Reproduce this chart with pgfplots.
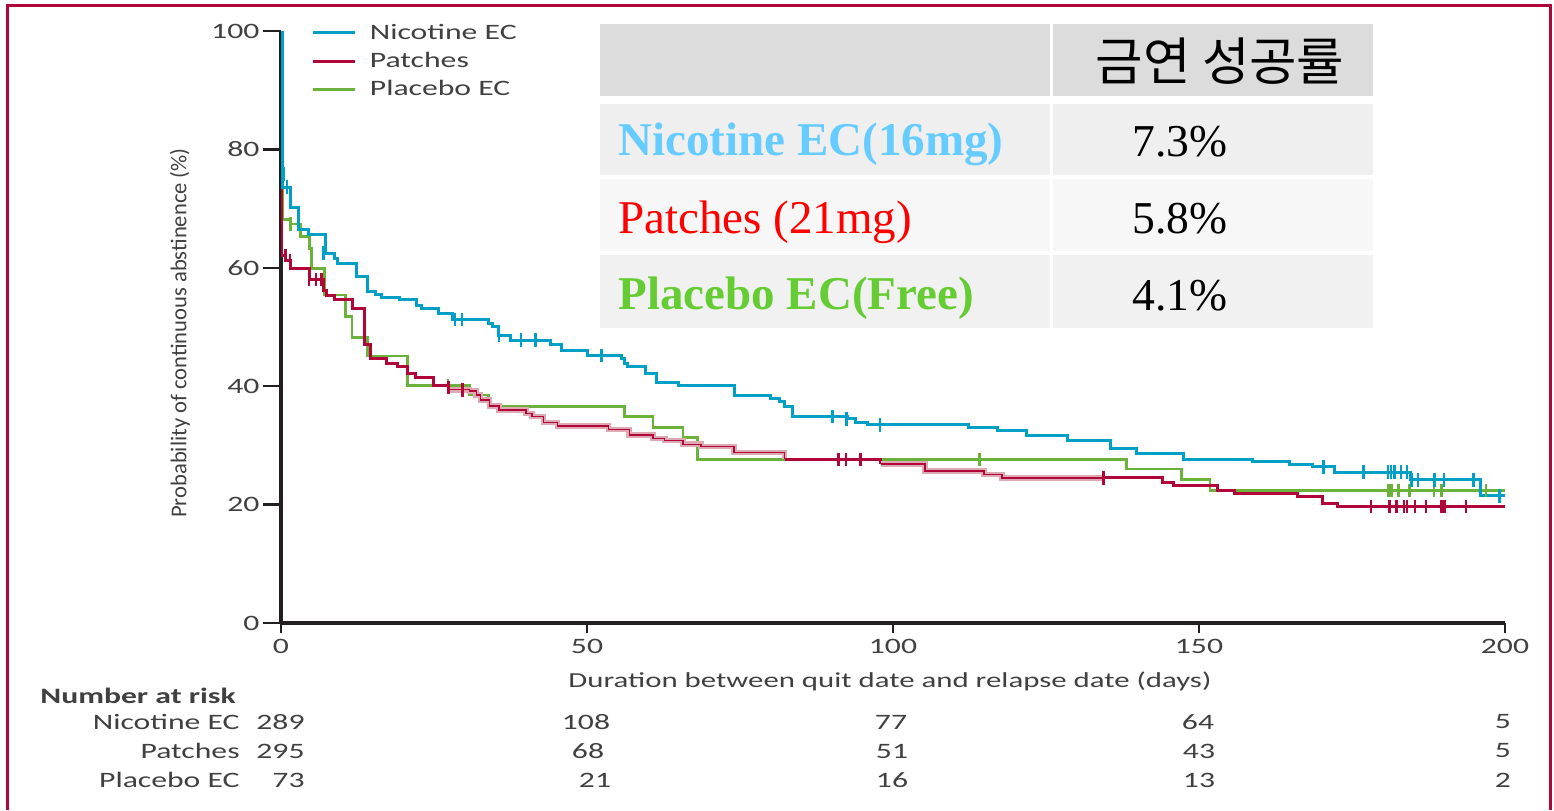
\documentclass[border=0pt]{standalone}
\usepackage{pgfplots}
\pgfplotsset{compat=1.18}
\usepackage{fontspec}
\setmainfont{Carlito}
\newfontfamily\chartfont[FakeStretch=1.44]{Carlito}
\newfontfamily\tabserif{Liberation Serif}
\newfontfamily\krfont{Noto Sans CJK KR}

\definecolor{nic}{HTML}{00A0C6}
\definecolor{pat}{HTML}{B0063A}
\definecolor{pla}{HTML}{6AB23A}
\definecolor{pinkband}{HTML}{DDA9B3}
\definecolor{framec}{HTML}{B0063A}
\definecolor{txt}{HTML}{404040}
\definecolor{axisk}{HTML}{231F20}
\definecolor{hdr}{HTML}{DCDCDC}
\definecolor{rowa}{HTML}{EFEFEF}
\definecolor{rowb}{HTML}{F7F7F7}
\definecolor{rowc}{HTML}{F1F1F1}
\definecolor{tnic}{HTML}{66CCFF}
\definecolor{tpat}{HTML}{FF0000}
\definecolor{tpla}{HTML}{66CC33}

\begin{document}
\begin{tikzpicture}[font=\chartfont\fontsize{11}{13}\selectfont]
\useasboundingbox (0,0) rectangle (777pt,-405pt);
\begin{axis}[
    at={(140.5pt,-311.5pt)}, anchor=south west,
    width=612pt, height=296pt, scale only axis,
    xmin=0, xmax=200, ymin=0, ymax=100,
    axis lines=left,
    axis line style={-, line width=1.6pt, color=axisk},
    xtick={0,50,100,150,200},
    ytick={0,20,40,60,80,100},
    tick align=outside,
    tick style={line width=1.2pt, color=axisk},
    xtick style={/pgfplots/major tick length=5pt},
    ytick style={/pgfplots/major tick length=9pt},
    /pgf/number format/assume math mode=true,
    ticklabel style={font=\chartfont\fontsize{11}{13}\selectfont, text=txt},
    yticklabel style={xshift=-3pt},
    xticklabel style={yshift=-0.5pt},
    xlabel={Duration between quit date and relapse date (days)},
    ylabel={Probability of continuous abstinence (\%)},
    every axis x label/.style={at={(axis description cs:0.4975,-0.098)}, anchor=center,
        font=\chartfont\fontsize{10.7}{13}\selectfont, text=txt},
    every axis y label/.style={at={(axis description cs:-0.0825,0.49)}, anchor=center, rotate=90,
        font=\fontsize{11.3}{13}\selectfont, text=txt},
    legend style={at={(axis cs:4.0,102.3)}, anchor=north west, draw=none, fill=none,
        font=\chartfont\fontsize{11}{13}\selectfont, text=txt,
        row sep=3pt, nodes={inner sep=1pt}},
    legend cell align=left,
    legend image code/.code={\draw[#1] (0pt,0pt) -- (21pt,0pt); \path (26.5pt,0pt);},
]

\addlegendimage{nic, line width=1.5pt}
\addlegendentry{Nicotine EC}
\addlegendimage{pat, line width=1.5pt}
\addlegendentry{Patches}
\addlegendimage{pla, line width=1.5pt}
\addlegendentry{Placebo EC}

% Placebo EC
\addplot[pla, line width=1.4pt, const plot, forget plot] coordinates {
    (0.3,100)(0.3,68.2)(1.6,67.4)(3.2,65.25)(4.6,63.3)(5.0,59.9)(7.1,55.4)
    (10.6,51.75)(11.6,48.25)(14.1,45.1)(20.7,40.1)(30.8,38.5)(33.9,36.55)
    (56.1,34.85)(60.8,33.05)(65.7,31.3)(68.0,27.65)(138.1,26.0)(147.1,24.2)
    (151.8,22.35)(200,22.35)
};
\addplot[pla, only marks, mark=|, mark size=3.4pt, mark options={line width=1.3pt}, forget plot] coordinates {
    (1.6,67.4)(27.3,40.1)(114.1,27.65)(181.0,22.35)(181.5,22.35)(182.6,22.35)
    (184.4,22.35)(188.4,22.35)(189.6,22.35)(196.9,22.35)
};

% Patches
\addplot[pat, line width=1.5pt, const plot, forget plot] coordinates {
    (0,100)(0.05,62.1)(0.7,61.2)(1.5,59.9)(4.6,58.05)(6.9,56.25)(7.5,55.4)
    (8.7,54.6)(11.7,53.15)(13.6,47.0)(14.6,44.7)(17.2,43.9)(19.0,43.3)
    (20.7,42.1)(22.0,41.5)(24.9,40.2)(27.3,39.4)
};
\addplot[pinkband, line width=2.8pt, const plot, forget plot] coordinates {
    (27.3,39.4)(30.8,39.2)(31.9,38.5)(32.6,37.7)(34.1,36.65)(35.6,36.0)
    (40.0,35.4)(41.0,34.85)(42.9,33.9)(45.2,33.3)(53.5,32.7)(56.9,31.75)
    (60.8,31.2)(62.7,30.8)(65.7,30.2)(68.6,29.8)(74.0,28.8)(82.3,27.65)
};
\addplot[pat, line width=0.7pt, const plot, forget plot] coordinates {
    (27.3,39.4)(30.8,39.2)(31.9,38.5)(32.6,37.7)(34.1,36.65)(35.6,36.0)
    (40.0,35.4)(41.0,34.85)(42.9,33.9)(45.2,33.3)(53.5,32.7)(56.9,31.75)
    (60.8,31.2)(62.7,30.8)(65.7,30.2)(68.6,29.8)(74.0,28.8)(82.3,27.65)
};
\addplot[pat, line width=1.5pt, const plot, forget plot] coordinates {
    (82.3,27.65)(98.0,26.85)
};
\addplot[pinkband, line width=2.8pt, const plot, forget plot] coordinates {
    (98.0,26.85)(105.2,25.7)(114.9,25.1)(117.8,24.5)(134.4,24.5)
};
\addplot[pat, line width=0.7pt, const plot, forget plot] coordinates {
    (98.0,26.85)(105.2,25.7)(114.9,25.1)(117.8,24.5)(134.4,24.5)
};
\addplot[pat, line width=1.5pt, const plot, forget plot] coordinates {
    (134.4,24.5)(144.0,23.7)(145.9,23.25)(153.0,22.35)(155.8,21.9)
    (166.1,21.45)(170.1,20.15)(172.7,19.7)(200,19.7)
};
\addplot[pat, only marks, mark=|, mark size=3.4pt, mark options={line width=1.3pt}, forget plot] coordinates {
    (0.7,62.1)(1.5,61.2)(4.6,58.05)(5.7,58.05)(6.6,58.05)(27.4,39.8)(29.7,39.4)
    (91.1,27.65)(92.3,27.65)(94.7,27.65)(134.4,24.5)
    (178.1,19.7)(181.1,19.7)(182.3,19.7)(183.5,19.7)(184.0,19.7)(185.3,19.7)
    (187.1,19.7)(189.6,19.7)(190.1,19.7)(193.6,19.7)
};

% Nicotine EC
\addplot[nic, line width=1.5pt, const plot, forget plot] coordinates {
    (0,100)(0.2,73.6)(1.6,70.2)(2.9,66.5)(4.5,65.7)(7.2,62.5)(8.7,61.6)
    (9.3,60.8)(12.4,58.5)(14.2,56)(15.4,55.5)(16.5,55)(19.4,54.6)(22.1,53.7)
    (23.0,53.2)(25.8,52.3)(28.1,51.3)(33.9,50.6)(34.6,50.1)(35.6,48.6)
    (37.5,47.8)(44.1,47.0)(45.9,46.0)(50.1,45.2)(55.6,44.7)(56.2,43.9)
    (56.6,43.3)(59.6,42.1)(61.4,40.7)(65.0,40.1)(74.1,38.4)(80.0,37.95)
    (81.5,37.4)(82.2,36.5)(83.5,34.85)(92.5,34.5)(93.8,33.8)(95.8,33.45)
    (112.3,33.05)(117.0,32.6)(121.8,31.7)(128.5,30.85)(135.5,29.5)
    (139.8,28.6)(147.5,27.65)(158.8,27.25)(164.8,26.8)(168.5,26.4)
    (172.1,25.5)(184.5,24.2)(196.0,21.5)(200,21.5)
};
\addplot[nic, only marks, mark=|, mark size=3.4pt, mark options={line width=1.3pt}, forget plot] coordinates {
    (0.4,75.8)(1.0,73.6)(6.9,62.5)(28.4,51.3)(29.6,51.3)(35.6,48.6)
    (39.2,47.8)(41.6,47.8)(52.4,45.2)(90.1,34.85)(92.4,34.5)(97.9,33.45)
    (170.3,26.4)(176.9,25.5)(180.9,25.5)(181.4,25.5)(181.9,25.5)
    (183.0,25.5)(184.0,25.5)(184.7,24.2)(185.8,24.2)(188.5,24.2)
    (190.0,24.2)(194.9,24.2)(199.1,21.5)
};
\end{axis}

\begin{scope}[x=0.5pt, y=-0.5pt]
  % frame
  \draw[framec, line width=1.5pt] (7,810) -- (7,5) -- (1550,5) -- (1550,810);

  % table
  \fill[hdr] (600,24) rectangle (1050,96);
  \fill[hdr] (1053,24) rectangle (1373,96);
  \fill[rowa] (600,104) rectangle (1050,175);
  \fill[rowa] (1053,104) rectangle (1373,175);
  \fill[rowb] (600,179) rectangle (1050,251);
  \fill[rowb] (1053,179) rectangle (1373,251);
  \fill[rowc] (600,255) rectangle (1050,328);
  \fill[rowc] (1053,255) rectangle (1373,328);

  \node[font=\krfont\fontsize{25.8}{30}\selectfont, anchor=center] at (1220,61) {금연 성공률};
  \node[font=\tabserif\bfseries\fontsize{23.5}{28}\selectfont, text=tnic, anchor=base west, inner sep=0pt] at (618,155) {Nicotine EC(16mg)};
  \node[font=\tabserif\fontsize{23.5}{28}\selectfont, text=tpat, anchor=base west, inner sep=0pt] at (618,233) {Patches (21mg)};
  \node[font=\tabserif\bfseries\fontsize{23.5}{28}\selectfont, text=tpla, anchor=base west, inner sep=0pt] at (618,309) {Placebo EC(Free)};
  \node[font=\tabserif\fontsize{22.8}{27}\selectfont, anchor=base west, inner sep=0pt] at (1132,156) {7.3\%};
  \node[font=\tabserif\fontsize{22.8}{27}\selectfont, anchor=base west, inner sep=0pt] at (1132,233) {5.8\%};
  \node[font=\tabserif\fontsize{22.8}{27}\selectfont, anchor=base west, inner sep=0pt] at (1132,310) {4.1\%};

  % number at risk
  \begin{scope}[every node/.style={text=txt, inner sep=0pt}]
    \node[anchor=west, font=\chartfont\bfseries\fontsize{11}{13}\selectfont] at (40,696) {Number at risk};
    \node[anchor=east] at (240,722) {Nicotine EC};
    \node[anchor=east] at (240,751) {Patches};
    \node[anchor=east] at (240,780) {Placebo EC};
    \node[anchor=east] at (305,722) {289};
    \node[anchor=east] at (305,751) {295};
    \node[anchor=east] at (305,780) {73};
    \node at (586,722) {108};
    \node at (588,751) {68};
    \node at (595,780) {21};
    \node at (891,722) {77};
    \node at (892,751) {51};
    \node at (892,780) {16};
    \node at (1198,722) {64};
    \node at (1199,751) {43};
    \node at (1199,780) {13};
    \node at (1503,722) {5};
    \node at (1503,751) {5};
    \node at (1503,780) {2};
  \end{scope}
\end{scope}
\end{tikzpicture}
\end{document}
